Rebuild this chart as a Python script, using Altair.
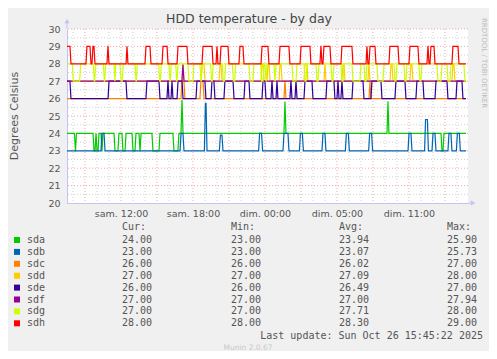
import altair as alt
import pandas as pd

# ---- time axis: hours elapsed since Saturday 00:00 (DST change on Sunday) ----
X_START, X_END = 7.5, 40.92
DATA_START, DATA_END = 7.2, 40.75
RAMP = 1 / 12  # one 5-minute sample

x_tick_hours = [12, 18, 24, 30, 36]
x_tick_labels = ["sam. 12:00", "sam. 18:00", "dim. 00:00", "dim. 05:00", "dim. 11:00"]
x_major_grid = [9, 12, 15, 18, 21, 24, 27, 30, 33, 36, 39]
x_minor_grid = [8, 10, 11, 13, 14, 16, 17, 19, 20, 22, 23, 25, 26, 28, 29, 31, 32, 34, 35, 37, 38, 40]
y_ticks = [20, 21, 22, 23, 24, 25, 26, 27, 28, 29, 30]
y_minor_grid = [20.5, 21.5, 22.5, 23.5, 24.5, 25.5, 26.5, 27.5, 28.5, 29.5]

series_names = ["sda", "sdb", "sdc", "sdd", "sde", "sdf", "sdg", "sdh"]
series_colors = ["#00CC00", "#0066B3", "#FF8000", "#FFCC00", "#330099", "#990099", "#CCFF00", "#FF0000"]

# each series: base level + excursions (start hour, end hour, level); end None = stays till the end
sda_base = 24
sda_events = [(8.12, 8.29, 23), (9.67, 9.92, 23), (9.92, 10.17, 23), (10.33, 10.5, 23),
              (11.42, 11.83, 23), (12.08, 12.42, 23), (12.92, 13.25, 23), (13.5, 13.67, 23),
              (14.58, 15.25, 23), (16.33, 16.83, 23), (17.0, 17.17, 25.9), (25.58, 25.75, 25.8),
              (34.17, 34.33, 25.85), (38.67, 38.92, 23)]
sdb_base = 23
sdb_events = [(10.33, 10.67, 24), (16.92, 17.25, 24), (18.95, 19.17, 25.73), (20.2, 20.5, 23.9),
              (23.47, 23.8, 24), (25.5, 26.0, 24), (26.87, 27.2, 24), (28.75, 29.08, 24),
              (30.7, 31.03, 24), (32.64, 32.97, 24), (35.92, 36.25, 24), (37.3, 37.62, 24.8),
              (37.92, 38.25, 24), (39.25, 39.58, 24), (39.95, 40.28, 24)]
sdc_base = 26
sdc_events = [(17.0, 17.33, 27), (18.58, 18.92, 27), (25.58, 25.75, 27), (32.67, 32.83, 27)]
sdd_base = 27
sdd_events = [(17.08, 17.25, 28), (18.67, 19.0, 28), (20.17, 20.42, 28), (23.67, 23.92, 28),
              (24.17, 24.42, 28), (25.17, 25.42, 28), (27.25, 27.58, 28), (28.92, 29.08, 28),
              (30.42, 30.67, 28), (32.58, 32.75, 28), (34.42, 34.67, 28), (36.08, 36.33, 28),
              (39.58, 39.83, 28)]
sde_base = 26
sde_events = [(7.25, 7.83, 27), (10.92, 12.5, 27), (14.08, 15.25, 27), (15.83, 16.0, 27),
              (16.17, 16.33, 27), (16.67, 17.17, 27), (18.25, 19.08, 27), (19.5, 19.83, 27),
              (20.58, 21.42, 27), (22.25, 22.75, 27), (23.75, 24.08, 27), (24.5, 24.67, 27),
              (24.92, 25.08, 27), (26.08, 26.25, 27), (26.5, 26.67, 27), (27.25, 28.0, 27),
              (29.08, 29.83, 27), (30.0, 30.17, 27), (30.33, 30.5, 27), (31.25, 32.25, 27),
              (32.83, 33.75, 27), (34.83, 35.75, 27), (36.58, 37.25, 27), (38.17, 39.25, 27),
              (39.92, 40.5, 27)]
sdf_base = 27
sdf_events = [(17.08, 17.25, 27.94)]
sdg_base = 28
sdg_events = [(7.94, 8.64, 27), (9.69, 9.89, 27), (10.53, 10.72, 27), (11.42, 11.56, 27),
              (11.92, 12.19, 27), (13.17, 13.36, 27), (15.14, 15.36, 27), (16.0, 16.19, 27),
              (16.56, 16.75, 27), (17.58, 18.08, 27), (18.58, 18.78, 27), (19.47, 19.69, 27),
              (20.44, 20.72, 27), (21.28, 21.56, 27), (22.67, 23.08, 27), (23.64, 23.92, 27),
              (24.0, 24.17, 27), (24.75, 24.92, 27), (26.25, 26.67, 27), (27.25, 27.5, 27),
              (28.25, 28.5, 27), (29.5, 29.75, 27), (30.33, 30.58, 27), (31.25, 32.0, 27),
              (32.25, 32.5, 27), (33.33, 33.92, 27), (34.75, 35.0, 27), (35.58, 35.83, 27),
              (36.83, 37.08, 27), (38.33, 38.75, 27), (39.17, 39.5, 27), (40.58, None, 27)]
sdh_base = 28
sdh_events = [(7.25, 7.83, 29), (9.08, 9.5, 29), (9.58, 9.83, 29), (10.83, 11.0, 29),
              (12.42, 12.58, 29), (14.0, 14.5, 29), (15.42, 15.92, 29), (16.67, 17.58, 29),
              (18.75, 19.67, 29), (19.92, 20.08, 29), (20.25, 21.0, 29), (21.83, 22.25, 29),
              (23.67, 24.33, 29), (25.17, 26.08, 29), (26.92, 27.83, 29), (28.58, 28.75, 29),
              (28.83, 29.5, 29), (30.33, 31.33, 29), (32.42, 32.58, 29), (32.67, 33.25, 29),
              (34.33, 35.17, 29), (36.0, 36.83, 29), (37.5, 37.67, 29), (37.75, 38.17, 29),
              (39.58, 40.17, 29)]

cur_vals = ["24.00", "23.00", "26.00", "27.00", "26.00", "27.00", "27.00", "28.00"]
min_vals = ["23.00", "23.00", "26.00", "27.00", "26.00", "27.00", "27.00", "28.00"]
avg_vals = ["23.94", "23.07", "26.02", "27.09", "26.49", "27.00", "27.71", "28.30"]
max_vals = ["25.90", "25.73", "27.00", "28.00", "27.00", "27.94", "28.00", "29.00"]

bases = [sda_base, sdb_base, sdc_base, sdd_base, sde_base, sdf_base, sdg_base, sdh_base]
events = [sda_events, sdb_events, sdc_events, sdd_events, sde_events, sdf_events, sdg_events, sdh_events]


def vertices(base, evs):
    pts = [(DATA_START, base)]
    ended = False
    for s, e, lvl in evs:
        if e is None:
            pts += [(s, base), (s + RAMP, lvl), (DATA_END, lvl)]
            ended = True
            break
        r = min(RAMP, (e - s) / 2)
        pts += [(s, base), (s + r, lvl), (e - r, lvl), (e, base)]
    if not ended:
        pts.append((DATA_END, base))
    return pts


AXIS_COLOR = "#C4C4F2"
TEXT = "#555555"
W, H = 401, 174

xscale = alt.Scale(domain=[X_START, X_END], nice=False, zero=False)
yscale = alt.Scale(domain=[20, 30], nice=False, zero=False)

label_expr = " : ".join(f"datum.value == {h} ? '{l}'" for h, l in zip(x_tick_hours, x_tick_labels)) + " : ''"

x_axis = alt.Axis(values=x_tick_hours, labelExpr=label_expr, title=None, grid=False,
                  ticks=False, domainColor=AXIS_COLOR, labelFont="DejaVu Sans",
                  labelFontSize=9.5, labelColor=TEXT, labelPadding=5, labelOverlap=False)
y_axis = alt.Axis(values=y_ticks, title=None, grid=False, ticks=False,
                  domainColor=AXIS_COLOR, labelFont="DejaVu Sans", labelFontSize=9.5,
                  labelColor=TEXT, labelPadding=7, labelOverlap=False, labelBound=False,
                  labelFlush=False)


def xq(field):
    return alt.X(field, scale=xscale, axis=x_axis)


def yq(field):
    return alt.Y(field, scale=yscale, axis=y_axis)


base_axes = alt.Chart(pd.DataFrame({"h": [X_START, X_END], "t": [20, 30]})).mark_point(opacity=0).encode(
    x=xq("h:Q"), y=yq("t:Q"))

minor_y = alt.Chart(pd.DataFrame({"t": y_minor_grid})).mark_rule(
    color="#D2D2D2", strokeDash=[1, 2], strokeWidth=1).encode(y=yq("t:Q"))
major_y = alt.Chart(pd.DataFrame({"t": y_ticks[1:]})).mark_rule(
    color="#F2A8A8", strokeDash=[1, 2], strokeWidth=1).encode(y=yq("t:Q"))
minor_x = alt.Chart(pd.DataFrame({"h": x_minor_grid})).mark_rule(
    color="#D2D2D2", strokeDash=[1, 2], strokeWidth=1).encode(x=xq("h:Q"))
major_x = alt.Chart(pd.DataFrame({"h": x_major_grid})).mark_rule(
    color="#F2A8A8", strokeDash=[1, 2], strokeWidth=1).encode(x=xq("h:Q"))

line_layers = []
for name, color, b, evs in zip(series_names, series_colors, bases, events):
    pts = vertices(b, evs)
    d = pd.DataFrame({"h": [p[0] for p in pts], "t": [p[1] for p in pts], "i": list(range(len(pts)))})
    line_layers.append(
        alt.Chart(d).mark_line(clip=True, strokeWidth=1.2, color=color).encode(
            x=xq("h:Q"), y=yq("t:Q"), order="i:Q")
    )

# axis arrows
arrow_y_line = alt.Chart(pd.DataFrame({"a": [0]})).mark_rule(color=AXIS_COLOR).encode(
    x=alt.value(0), y=alt.value(-7), y2=alt.value(0))
arrow_x_line = alt.Chart(pd.DataFrame({"a": [0]})).mark_rule(color=AXIS_COLOR).encode(
    x=alt.value(W), x2=alt.value(W + 4), y=alt.value(H))
arrow_up = alt.Chart(pd.DataFrame({"a": [0]})).mark_point(
    shape="triangle-up", filled=True, color=AXIS_COLOR, size=28, opacity=1).encode(
    x=alt.value(0), y=alt.value(-8))
arrow_right = alt.Chart(pd.DataFrame({"a": [0]})).mark_point(
    shape="triangle-right", filled=True, color=AXIS_COLOR, size=28, opacity=1).encode(
    x=alt.value(W + 5), y=alt.value(H))

# titles
title_text = alt.Chart(pd.DataFrame({"s": ["HDD temperature - by day"]})).mark_text(
    font="DejaVu Sans", fontSize=12.5, color="#444444", align="center", baseline="middle").encode(
    text="s:N", x=alt.value(182), y=alt.value(-10))
ytitle_text = alt.Chart(pd.DataFrame({"s": ["Degrees Celsius"]})).mark_text(
    font="DejaVu Sans", fontSize=11, color=TEXT, align="center", baseline="middle", angle=270).encode(
    text="s:N", x=alt.value(-52), y=alt.value(87))
rrd_text = alt.Chart(pd.DataFrame({"s": ["RRDTOOL / TOBI OETIKER"]})).mark_text(
    font="DejaVu Sans", fontSize=7, color="#BBBBBB", align="center", baseline="middle", angle=90).encode(
    text="s:N", x=alt.value(417), y=alt.value(34))
munin_text = alt.Chart(pd.DataFrame({"s": ["Munin 2.0.67"]})).mark_text(
    font="DejaVu Sans", fontSize=7.5, color="#C8C8C8", align="center", baseline="middle").encode(
    text="s:N", x=alt.value(181), y=alt.value(319))
update_text = alt.Chart(pd.DataFrame({"s": ["Last update: Sun Oct 26 15:45:22 2025"]})).mark_text(
    font="DejaVu Sans Mono", fontSize=10, color=TEXT, align="right", baseline="middle").encode(
    text="s:N", x=alt.value(416), y=alt.value(307))

# legend table
ROW0, STEP = 211, 11.9
col_x = [55, 164, 272, 380]
headers = ["Cur:", "Min:", "Avg:", "Max:"]
cells = []
for cx, hd in zip(col_x, headers):
    cells.append({"px": cx, "py": 198, "s": hd})
for k, name in enumerate(series_names):
    py = ROW0 + STEP * k
    cells.append({"px": -40, "py": py, "s": name})
    for cx, vals in zip(col_x, [cur_vals, min_vals, avg_vals, max_vals]):
        cells.append({"px": cx, "py": py, "s": vals[k]})
legend_text = alt.Chart(pd.DataFrame(cells)).mark_text(
    font="DejaVu Sans Mono", fontSize=10, color=TEXT, align="left", baseline="middle").encode(
    text="s:N", x=alt.X("px:Q", scale=None, axis=None), y=alt.Y("py:Q", scale=None, axis=None))

swatch_df = pd.DataFrame({"series": series_names,
                          "px": [-50] * len(series_names),
                          "py": [ROW0 + STEP * k for k in range(len(series_names))]})
swatches = alt.Chart(swatch_df).mark_square(size=36, opacity=1).encode(
    x=alt.X("px:Q", scale=None, axis=None), y=alt.Y("py:Q", scale=None, axis=None),
    color=alt.Color("series:N", scale=alt.Scale(domain=series_names, range=series_colors), legend=None))

chart = alt.layer(
    base_axes, minor_y, minor_x, major_y, major_x, *line_layers,
    arrow_y_line, arrow_x_line, arrow_up, arrow_right,
    title_text, ytitle_text, rrd_text, munin_text, update_text, legend_text, swatches,
).properties(
    width=W, height=H,
    padding={"left": 59, "top": 21, "right": 21, "bottom": 148},
    autosize=alt.AutoSizeParams(type="none"),
    background="#F0F0F0",
).configure_view(fill="white", stroke=None)

chart.save("out.html", embed_options={"renderer": "svg", "actions": False})
